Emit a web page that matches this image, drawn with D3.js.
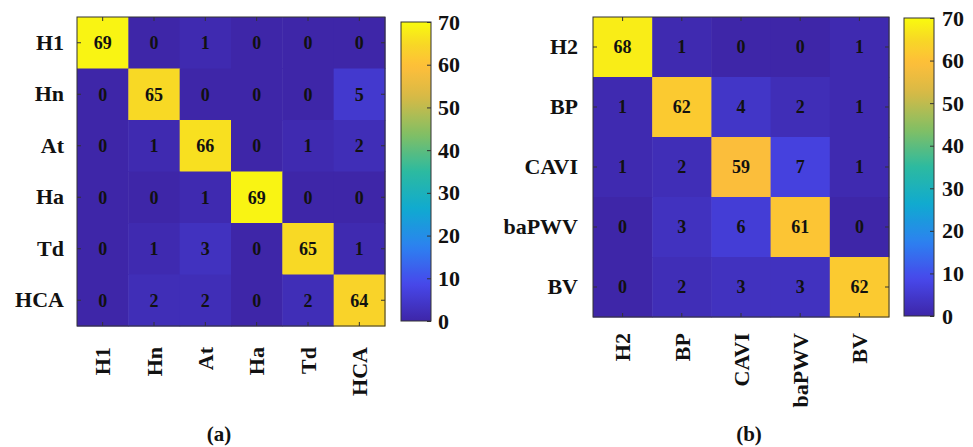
<!DOCTYPE html>
<html>
<head>
<meta charset="utf-8">
<script src="https://cdn.jsdelivr.net/npm/d3@7"></script>
<style>
  html, body { margin: 0; padding: 0; background: #ffffff; }
  svg { display: block; }
  text { font-family: "Liberation Serif", "Times New Roman", serif; font-weight: bold; fill: #111111; }
</style>
</head>
<body>
<svg id="chart" width="973" height="447"></svg>
<script>
// ---------------- DATA ----------------
const labelsA = ["H1", "Hn", "At", "Ha", "Td", "HCA"];
const valuesA = [
  [69, 0, 1, 0, 0, 0],
  [0, 65, 0, 0, 0, 5],
  [0, 1, 66, 0, 1, 2],
  [0, 0, 1, 69, 0, 0],
  [0, 1, 3, 0, 65, 1],
  [0, 2, 2, 0, 2, 64]
];
const labelsB = ["H2", "BP", "CAVI", "baPWV", "BV"];
const valuesB = [
  [68, 1, 0, 0, 1],
  [1, 62, 4, 2, 1],
  [1, 2, 59, 7, 1],
  [0, 3, 6, 61, 0],
  [0, 2, 3, 3, 62]
];
const colorbarTicks = [0, 10, 20, 30, 40, 50, 60, 70];
const colorDomain = [0, 70];
const captions = ["(a)", "(b)"];

// parula-like colormap stops (t, rgb)
const parulaStops = [
  [0.000, [62, 38, 168]],
  [0.125, [71, 72, 235]],
  [0.250, [44, 130, 240]],
  [0.375, [16, 170, 208]],
  [0.500, [44, 186, 160]],
  [0.625, [130, 191, 100]],
  [0.750, [215, 186, 70]],
  [0.850, [254, 190, 58]],
  [0.925, [248, 215, 38]],
  [1.000, [249, 251, 14]]
];
const parula = d3.scaleLinear()
  .domain(parulaStops.map(d => d[0]))
  .range(parulaStops.map(d => d3.rgb(...d[1]).toString()))
  .interpolate(d3.interpolateRgb)
  .clamp(true);
const colorOf = v => parula((v - colorDomain[0]) / (colorDomain[1] - colorDomain[0]));

const svg = d3.select("#chart");
const axisColor = "#333333";
let gradId = 0;

function drawPanel(cfg) {
  const { labels, values, x0, x1, y0, y1, yPad, xGap, cb, caption } = cfg;
  const g = svg.append("g");
  const x = d3.scaleBand().domain(labels).range([x0, x1]).padding(0);
  const y = d3.scaleBand().domain(labels).range([y0, y1]).padding(0);

  const cells = [];
  values.forEach((row, i) => row.forEach((v, j) => cells.push({ r: labels[i], c: labels[j], v })));

  g.selectAll("rect.cell").data(cells).join("rect")
    .attr("class", "cell")
    .attr("x", d => x(d.c))
    .attr("y", d => y(d.r))
    .attr("width", x.bandwidth() + 0.5)
    .attr("height", y.bandwidth() + 0.5)
    .attr("fill", d => colorOf(d.v));

  g.selectAll("text.val").data(cells).join("text")
    .attr("class", "val")
    .attr("x", d => x(d.c) + x.bandwidth() / 2)
    .attr("y", d => y(d.r) + y.bandwidth() / 2)
    .attr("dy", "0.35em")
    .attr("text-anchor", "middle")
    .style("font-size", "18px")
    .text(d => d.v);

  // frame
  g.append("rect")
    .attr("x", x0).attr("y", y0)
    .attr("width", x1 - x0).attr("height", y1 - y0)
    .attr("fill", "none").attr("stroke", axisColor).attr("stroke-width", 1);

  // left axis with labels
  const left = g.append("g").attr("transform", `translate(${x0},0)`)
    .call(d3.axisLeft(y).tickSizeInner(-4).tickSizeOuter(0).tickPadding(yPad));
  left.select(".domain").remove();
  left.selectAll("line").attr("stroke", axisColor);
  left.selectAll("text")
    .style("font-size", "22px")
    .style("font-family", '"Liberation Serif", serif')
    .style("font-weight", "bold")
    .attr("fill", "#111");

  // bottom axis with rotated labels
  const bottom = g.append("g").attr("transform", `translate(0,${y1})`)
    .call(d3.axisBottom(x).tickSizeInner(-4).tickSizeOuter(0));
  bottom.select(".domain").remove();
  bottom.selectAll("line").attr("stroke", axisColor);
  bottom.selectAll("text")
    .attr("transform", "rotate(-90)")
    .attr("x", -xGap)
    .attr("y", 0)
    .attr("dy", "0.35em")
    .attr("text-anchor", "end")
    .style("font-size", "22px")
    .style("font-family", '"Liberation Serif", serif')
    .style("font-weight", "bold")
    .attr("fill", "#111");

  // top and right inner ticks (no labels)
  const top = g.append("g").attr("transform", `translate(0,${y0})`)
    .call(d3.axisTop(x).tickSizeInner(-4).tickSizeOuter(0).tickFormat(""));
  top.select(".domain").remove();
  top.selectAll("line").attr("stroke", axisColor);
  const right = g.append("g").attr("transform", `translate(${x1},0)`)
    .call(d3.axisRight(y).tickSizeInner(-4).tickSizeOuter(0).tickFormat(""));
  right.select(".domain").remove();
  right.selectAll("line").attr("stroke", axisColor);

  // colorbar
  const id = "grad" + (gradId++);
  const grad = svg.append("defs").append("linearGradient")
    .attr("id", id).attr("x1", "0").attr("y1", "1").attr("x2", "0").attr("y2", "0");
  d3.range(0, 1.0001, 0.02).forEach(t => {
    grad.append("stop").attr("offset", t).attr("stop-color", parula(t));
  });
  const cScale = d3.scaleLinear().domain(colorDomain).range([cb.y1, cb.y0]);
  g.append("rect")
    .attr("x", cb.x0).attr("y", cb.y0)
    .attr("width", cb.x1 - cb.x0).attr("height", cb.y1 - cb.y0)
    .attr("fill", `url(#${id})`)
    .attr("stroke", axisColor).attr("stroke-width", 1);
  const cAxis = g.append("g").attr("transform", `translate(${cb.x1},0)`)
    .call(d3.axisRight(cScale).tickValues(colorbarTicks).tickSizeInner(-4).tickSizeOuter(0).tickPadding(cb.pad));
  cAxis.select(".domain").remove();
  cAxis.selectAll("line").attr("stroke", axisColor);
  cAxis.selectAll("text")
    .style("font-size", "22px")
    .style("font-family", '"Liberation Serif", serif')
    .style("font-weight", "bold")
    .attr("fill", "#111");

  // caption
  g.append("text")
    .attr("x", caption.x).attr("y", caption.y)
    .attr("text-anchor", "middle")
    .style("font-size", "21px")
    .text(caption.text);
}

drawPanel({
  labels: labelsA, values: valuesA,
  x0: 77, x1: 385, y0: 17, y1: 326,
  yPad: 13, xGap: 21,
  cb: { x0: 401, x1: 431, y0: 22, y1: 321, pad: 7 },
  caption: { x: 219, y: 441, text: captions[0] }
});

drawPanel({
  labels: labelsB, values: valuesB,
  x0: 593, x1: 889, y0: 17, y1: 317,
  yPad: 15, xGap: 16,
  cb: { x0: 904, x1: 934, y0: 18, y1: 316, pad: 8 },
  caption: { x: 749, y: 441, text: captions[1] }
});
</script>
</body>
</html>
